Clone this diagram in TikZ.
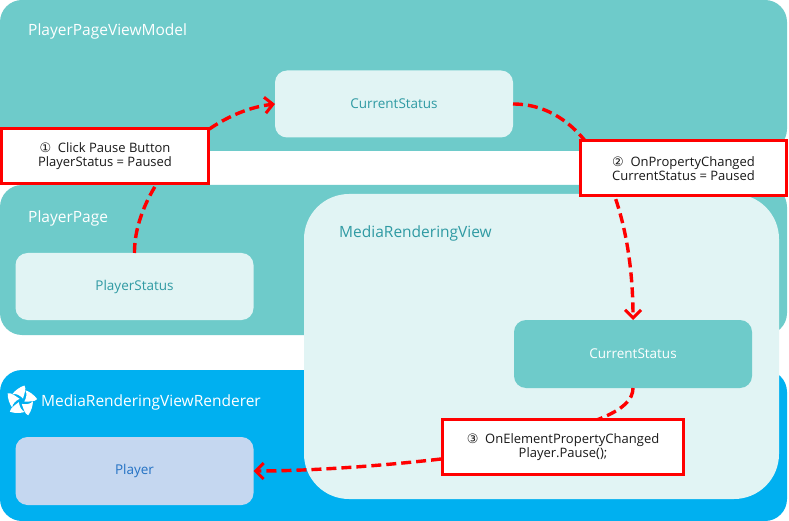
\documentclass[tikz,border=0pt]{standalone}
\usepackage{fontspec}
\setmainfont{Open Sans}
\newfontfamily\dejavu{DejaVu Sans}
\usetikzlibrary{arrows.meta}
\definecolor{panelteal}{HTML}{6ECBCA}
\definecolor{lightteal}{HTML}{E1F4F4}
\definecolor{skyblue}{HTML}{00B0F0}
\definecolor{playerfill}{HTML}{C5D7F0}
\definecolor{tealtext}{HTML}{2F9AA3}
\definecolor{bluetext}{HTML}{2472C4}
\definecolor{linkred}{HTML}{FF0000}
\tikzset{
  x=1pt,y=-1pt,
  panel/.style={rounded corners=22pt,minimum width=787pt,minimum height=#1,inner sep=0pt,outer sep=0pt,draw=none},
  card/.style={rounded corners=12pt,minimum width=238pt,minimum height=67pt,inner sep=0pt,outer sep=0pt,font=\fontsize{13.5}{16}\selectfont},
  heading/.style={anchor=west,text=white,inner sep=0pt,font=\fontsize{15.5}{18}\selectfont},
  callout/.style={draw=linkred,line width=3pt,fill=white,inner sep=0pt,outer sep=0pt,minimum height=55pt,align=center,font=\fontsize{13}{15}\selectfont,text=black!90},
  link/.style={draw=linkred,line width=3.4pt,dash pattern=on 10pt off 5pt,-{Straight Barb[length=8pt,width=16pt,line width=3pt]}},
  plainlink/.style={draw=linkred,line width=3.4pt,dash pattern=on 10pt off 5pt},
}
\begin{document}
\begin{tikzpicture}
\useasboundingbox (0,0) rectangle (789,521);
\fill[white] (0,0) rectangle (789,521);
% panels
\node[panel=151pt,fill=panelteal] (vm) at (393.5,75.5) {};
\node[panel=150pt,fill=panelteal] (page) at (393.5,260) {};
\node[panel=151pt,fill=skyblue] (rend) at (393.5,445.5) {};
\node[rounded corners=45pt,fill=lightteal,minimum width=475pt,minimum height=305pt,inner sep=0pt,outer sep=0pt] (mrv) at (541.5,346.5) {};
% headings
\node[heading] (vmt) at (28,31) {PlayerPageViewModel};
\node[heading] (pt) at (28,218) {PlayerPage};
\node[heading,text=tealtext] (mt) at (339,233) {MediaRenderingView};
\node[heading] (rt) at (41,402) {MediaRenderingViewRenderer};
% logo
\begin{scope}[shift={(21.5,401)}]
\foreach \a in {0,72,144,216,288}{
  \fill[white,rotate=\a] (1.5,-2.5) .. controls (3,-8) and (5,-12) .. (3,-15.5)
     .. controls (-2,-14) and (-7,-10) .. (-9,-7) .. controls (-5,-7.5) and (-2,-6) .. (1.5,-2.5) -- cycle;
}
\end{scope}
% cards
\node[card,fill=lightteal,text=tealtext] (cs1) at (394,104) {CurrentStatus};
\node[card,fill=lightteal,text=tealtext] (ps) at (134.5,286.5) {PlayerStatus};
\node[card,fill=panelteal,text=white,minimum height=68pt] (cs2) at (633,354) {CurrentStatus};
\node[card,fill=playerfill,text=bluetext,minimum height=68pt] (pl) at (134.5,471) {Player};
% connectors
\draw[link] (ps.north) .. controls (134,190) and (200,113) .. (cs1.west);
\draw[link] (cs1.east) .. controls (590,104) and (633,200) .. (cs2.north);
\draw[plainlink] (cs2.south) .. controls (633,412) and (590,424) .. (530,440);
\coordinate (c3w) at (441,459);
\draw[link] (c3w) .. controls (380,466) and (310,471) .. (pl.east);
% callouts
\node[callout,minimum width=207pt] (c1) at (105,156.5) {{\dejavu\char"2460}\ \ Click Pause Button\\[-1pt]PlayerStatus = Paused};
\node[callout,minimum width=206pt] (c2) at (683.5,168.5) {{\dejavu\char"2461}\ \ OnPropertyChanged\\[-1pt]CurrentStatus = Paused};
\node[callout,minimum width=241pt] (c3) at (563,447) {{\dejavu\char"2462}\ \ OnElementPropertyChanged\\[-1pt]Player.Pause();};
\end{tikzpicture}
\end{document}
